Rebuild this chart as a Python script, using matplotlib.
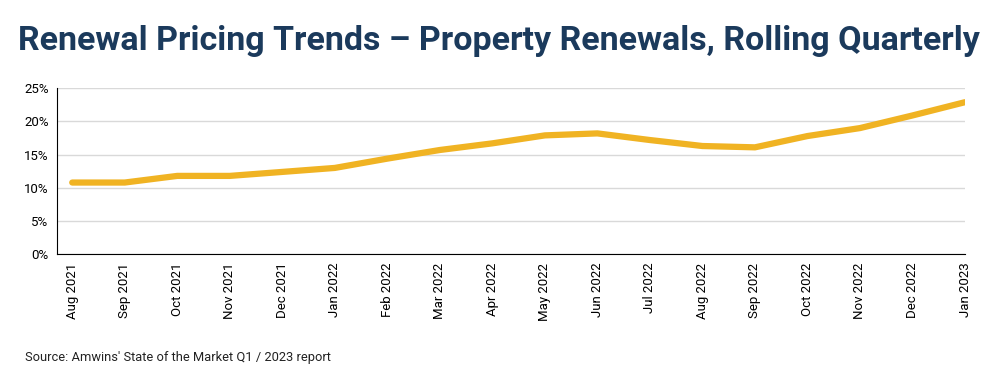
import matplotlib
matplotlib.use("Agg")
import matplotlib.pyplot as plt
from matplotlib.ticker import PercentFormatter

plt.rcParams["font.family"] = ["Roboto", "DejaVu Sans"]

months = ["Aug 2021", "Sep 2021", "Oct 2021", "Nov 2021", "Dec 2021", "Jan 2022",
          "Feb 2022", "Mar 2022", "Apr 2022", "May 2022", "Jun 2022", "Jul 2022",
          "Aug 2022", "Sep 2022", "Oct 2022", "Nov 2022", "Dec 2022", "Jan 2023"]
pricing = [10.8, 10.8, 11.8, 11.8, 12.4, 13.0, 14.4, 15.7, 16.7, 17.9, 18.2, 17.2,
           16.3, 16.1, 17.8, 19.0, 20.9, 22.9]
yticks = [0, 5, 10, 15, 20, 25]

LINE = "#f0b323"
NAVY = "#1b3a5c"

fig = plt.figure(figsize=(10, 3.87), dpi=100)
ax = fig.add_axes([0.057, 0.343, 0.908, 0.429])

x = list(range(len(months)))
ax.plot(x, pricing, color=LINE, linewidth=4.5, solid_capstyle="round", zorder=3)

ax.set_xlim(-0.29, len(months) - 1)
ax.set_ylim(0, 25)
ax.set_yticks(yticks)
ax.yaxis.set_major_formatter(PercentFormatter(decimals=0))
ax.set_xticks(x)
ax.set_xticklabels(months, rotation=90, fontsize=9.5)
ax.tick_params(axis="y", labelsize=9.5, length=0, pad=6)
ax.tick_params(axis="x", length=0, pad=6)
ax.grid(axis="y", color="#d9d9d9", linewidth=1)
ax.set_axisbelow(True)
for s in ["top", "right"]:
    ax.spines[s].set_visible(False)
ax.spines["left"].set_color("black")
ax.spines["bottom"].set_color("black")

fig.text(0.018, 0.895, "Renewal Pricing Trends \u2013 Property Renewals, Rolling Quarterly",
         fontsize=24.5, fontweight="bold", color=NAVY, va="center", ha="left")
fig.text(0.025, 0.077, "Source: Amwins' State of the Market Q1 / 2023 report",
         fontsize=9.3, color="#222222", va="center")

fig.savefig("out.png", dpi=100)
